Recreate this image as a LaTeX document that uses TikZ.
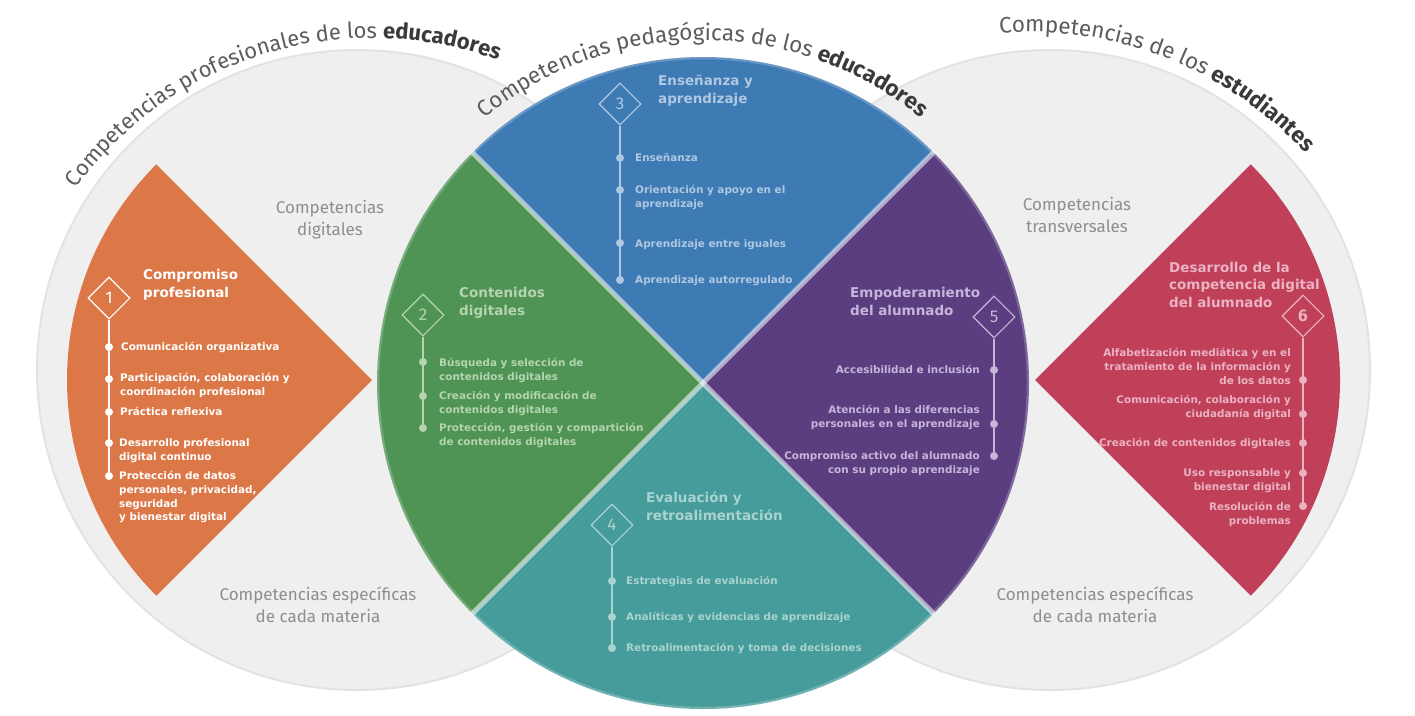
\documentclass[tikz,border=0pt]{standalone}
\usepackage{fontspec}
\setmainfont{DejaVu Sans}
\newfontfamily\arcfont{Fira Sans}
\usetikzlibrary{shapes.geometric,decorations.text}
\definecolor{greyc}{HTML}{EFEFEF}
\definecolor{greyedge}{HTML}{E3E3E3}
\definecolor{corange}{HTML}{DC7848}
\definecolor{cgreen}{HTML}{4F9455}
\definecolor{cblue}{HTML}{3E7AB4}
\definecolor{cteal}{HTML}{469C9A}
\definecolor{cpurple}{HTML}{5A3E80}
\definecolor{cpink}{HTML}{C0405A}
\definecolor{tgreen}{HTML}{B5D5B0}
\definecolor{tblue}{HTML}{AFC8E2}
\definecolor{tteal}{HTML}{A9D3D0}
\definecolor{tpurple}{HTML}{C5B6DA}
\definecolor{tpink}{HTML}{EBB3C2}
\definecolor{lblgrey}{HTML}{8E8E8E}
\definecolor{arcgrey}{HTML}{5C5C5C}
\definecolor{arcdark}{HTML}{3A3A3A}
\tikzset{
  dia/.style={diamond, draw, minimum size=42pt, inner sep=0pt, line width=1.1pt, font=\arcfont\fontsize{17}{17}\selectfont},
  dotn/.style={circle, inner sep=0pt, minimum size=8pt},
  vline/.style={line width=1.5pt},
  item/.style={font=\bfseries\fontsize{10.4}{13.8}\selectfont, inner sep=0pt},
  itemL/.style={item, align=left, anchor=base west},
  itemR/.style={item, align=right, anchor=base east},
  title/.style={font=\bfseries\fontsize{13.5}{18}\selectfont, inner sep=0pt, align=left, anchor=base west},
  lbl/.style={font=\arcfont\fontsize{17}{22}\selectfont, text=lblgrey, align=center, anchor=base, inner sep=0pt},
  sep/.style={line width=5pt, white, opacity=0.55},
  rim/.style={line width=2.5pt, white, opacity=0.22},
}
\begin{document}
\begin{tikzpicture}[x=1pt,y=1pt]
\fill[white] (0,0) rectangle (1415,-715);
\useasboundingbox (0,0) rectangle (1415,-715);

\coordinate (lc) at (357,-370);
\coordinate (rc) at (1050,-370);
\coordinate (cc) at (703,-383);
\coordinate (oc) at (372,-380);
\coordinate (pc) at (1035,-380);
\coordinate (tlc) at (372,-404);
\coordinate (trc) at (1029,-408);

% grey circles
\fill[greyc] (lc) circle[radius=320];
\fill[greyc] (rc) circle[radius=320];
\draw[greyedge, line width=2pt] (lc) circle[radius=320];
\draw[greyedge, line width=2pt] (rc) circle[radius=320];

% side sectors
\fill[corange] (oc) -- ([shift={(135:305)}]oc) arc[start angle=135, end angle=225, radius=305] -- cycle;
\fill[cpink] (pc) -- ([shift={(-45:305)}]pc) arc[start angle=-45, end angle=45, radius=305] -- cycle;

% central circle
\fill[cblue] (cc) -- ([shift={(45:326)}]cc) arc[start angle=45, end angle=135, radius=326] -- cycle;
\fill[cgreen] (cc) -- ([shift={(135:326)}]cc) arc[start angle=135, end angle=225, radius=326] -- cycle;
\fill[cteal] (cc) -- ([shift={(225:326)}]cc) arc[start angle=225, end angle=315, radius=326] -- cycle;
\fill[cpurple] (cc) -- ([shift={(-45:326)}]cc) arc[start angle=-45, end angle=45, radius=326] -- cycle;
\foreach \a in {45,135,225,315} \draw[sep] (cc) -- ([shift={(\a:327)}]cc);
\draw[rim] (cc) circle[radius=325];

% arc texts
\path[decorate, decoration={text along path, text align=left,
  text={|\arcfont\fontsize{22}{23}\selectfont\color{arcgrey}|Competencias profesionales de los |\arcfont\fontsize{22}{23}\selectfont\bfseries\color{arcdark}|educadores}}]
  ([shift={(144:366)}]tlc) arc[start angle=144, end angle=30, radius=366];
\path[decorate, decoration={text along path, text align=left,
  text={|\arcfont\fontsize{22.5}{23}\selectfont\color{arcgrey}|Competencias pedagógicas de los |\arcfont\fontsize{22.5}{23}\selectfont\bfseries\color{arcdark}|educadores}}]
  ([shift={(129.5:343)}]cc) arc[start angle=129.5, end angle=20, radius=343];
\path[decorate, decoration={text along path, text align=left,
  text={|\arcfont\fontsize{22.5}{23}\selectfont\color{arcgrey}|Competencias de los |\arcfont\fontsize{22.5}{23}\selectfont\bfseries\color{arcdark}|estudiantes}}]
  ([shift={(94.5:376)}]trc) arc[start angle=94.5, end angle=20, radius=376];

% grey labels
\node[lbl] (l1) at (330,-235) {Competencias\\digitales};
\node[lbl] (l2) at (1077,-232) {Competencias\\transversales};
\node[lbl] (l3) at (318,-622) {Competencias específicas\\de cada materia};
\node[lbl] (l4) at (1095,-622) {Competencias específicas\\de cada materia};

% 1 orange
\node[dia, draw=white, text=white] (n1) at (109,-298) {1};
\node[title, text=white] (h1) at (143,-297) {Compromiso\\profesional};
\node[dotn, fill=white] (p1a) at (109,-347) {};
\node[dotn, fill=white] (p1b) at (109,-379) {};
\node[dotn, fill=white] (p1c) at (109,-412) {};
\node[dotn, fill=white] (p1d) at (109,-443) {};
\node[dotn, fill=white] (p1e) at (109,-476) {};
\draw[vline, white] (n1.south) -- (p1e.center);
\node[itemL, text=white] (i1a) at (121,-350.5) {Comunicación organizativa};
\node[itemL, text=white] (i1b) at (120,-395.3) {Participación, colaboración y\\coordinación profesional};
\node[itemL, text=white] (i1c) at (120,-415.5) {Práctica reflexiva};
\node[itemL, text=white] (i1d) at (119,-460.3) {Desarrollo profesional\\digital continuo};
\node[itemL, text=white] (i1e) at (119,-520.9) {Protección de datos\\personales, privacidad,\\seguridad\\y bienestar digital};

% 2 green
\node[dia, draw=tgreen, text=tgreen] (n2) at (423,-315) {2};
\node[title, text=tgreen] (h2) at (459,-315) {Contenidos\\digitales};
\node[dotn, fill=tgreen] (p2a) at (423,-362) {};
\node[dotn, fill=tgreen] (p2b) at (423,-396) {};
\node[dotn, fill=tgreen] (p2c) at (423,-428) {};
\draw[vline, tgreen] (n2.south) -- (p2c.center);
\node[itemL, text=tgreen] (i2a) at (439,-380.3) {Búsqueda y selección de\\contenidos digitales};
\node[itemL, text=tgreen] (i2b) at (439,-413.3) {Creación y modificación de\\contenidos digitales};
\node[itemL, text=tgreen] (i2c) at (439,-445.3) {Protección, gestión y compartición\\de contenidos digitales};

% 3 blue
\node[dia, draw=tblue, text=tblue] (n3) at (620,-104) {3};
\node[title, text=tblue] (h3) at (658,-103) {Enseñanza y\\aprendizaje};
\node[dotn, fill=tblue] (p3a) at (620,-158) {};
\node[dotn, fill=tblue] (p3b) at (620,-190) {};
\node[dotn, fill=tblue] (p3c) at (620,-243) {};
\node[dotn, fill=tblue] (p3d) at (620,-280) {};
\draw[vline, tblue] (n3.south) -- (p3d.center);
\node[itemL, text=tblue] (i3a) at (635,-161.5) {Enseñanza};
\node[itemL, text=tblue] (i3b) at (635,-207.3) {Orientación y apoyo en el\\aprendizaje};
\node[itemL, text=tblue] (i3c) at (635,-247.5) {Aprendizaje entre iguales};
\node[itemL, text=tblue] (i3d) at (635,-283.5) {Aprendizaje autorregulado};

% 4 teal
\node[dia, draw=tteal, text=tteal] (n4) at (612,-525) {4};
\node[title, text=tteal] (h4) at (646,-520) {Evaluación y\\retroalimentación};
\node[dotn, fill=tteal] (p4a) at (612,-581) {};
\node[dotn, fill=tteal] (p4b) at (612,-617) {};
\node[dotn, fill=tteal] (p4c) at (612,-648) {};
\draw[vline, tteal] (n4.south) -- (p4c.center);
\node[itemL, text=tteal] (i4a) at (626,-584.5) {Estrategias de evaluación};
\node[itemL, text=tteal] (i4b) at (626,-620.5) {Analíticas y evidencias de aprendizaje};
\node[itemL, text=tteal] (i4c) at (626,-651.5) {Retroalimentación y toma de decisiones};

% 5 purple
\node[dia, draw=tpurple, text=tpurple] (n5) at (994,-317) {5};
\node[title, text=tpurple] (h5) at (850,-315) {Empoderamiento\\del alumnado};
\node[dotn, fill=tpurple] (p5a) at (994,-370) {};
\node[dotn, fill=tpurple] (p5b) at (994,-424) {};
\node[dotn, fill=tpurple] (p5c) at (994,-456) {};
\draw[vline, tpurple] (n5.south) -- (p5c.center);
\node[itemR, text=tpurple] (i5a) at (980,-373.5) {Accesibilidad e inclusión};
\node[itemR, text=tpurple] (i5b) at (980,-427.3) {Atención a las diferencias\\personales en el aprendizaje};
\node[itemR, text=tpurple] (i5c) at (980,-473.3) {Compromiso activo del alumnado\\con su propio aprendizaje};

% 6 pink
\node[dia, draw=tpink, text=tpink, font=\arcfont\bfseries\fontsize{17}{17}\selectfont] (n6) at (1303,-316) {6};
\node[title, text=tpink, font=\bfseries\fontsize{13.5}{17.5}\selectfont] (h6) at (1169,-307) {Desarrollo de la\\competencia digital\\del alumnado};
\node[dotn, fill=tpink] (p6a) at (1303,-380) {};
\node[dotn, fill=tpink] (p6b) at (1303,-414) {};
\node[dotn, fill=tpink] (p6c) at (1303,-443) {};
\node[dotn, fill=tpink] (p6d) at (1303,-473) {};
\node[dotn, fill=tpink] (p6e) at (1303,-506) {};
\draw[vline, tpink] (n6.south) -- (p6e.center);
\node[itemR, text=tpink] (i6a) at (1291,-384.1) {Alfabetización mediática y en el\\tratamiento de la información y\\de los datos};
\node[itemR, text=tpink] (i6b) at (1291,-417.3) {Comunicación, colaboración y\\ciudadanía digital};
\node[itemR, text=tpink] (i6c) at (1291,-446.5) {Creación de contenidos digitales};
\node[itemR, text=tpink] (i6d) at (1291,-490.3) {Uso responsable y\\bienestar digital};
\node[itemR, text=tpink] (i6e) at (1291,-524.3) {Resolución de\\problemas};
\end{tikzpicture}
\end{document}
